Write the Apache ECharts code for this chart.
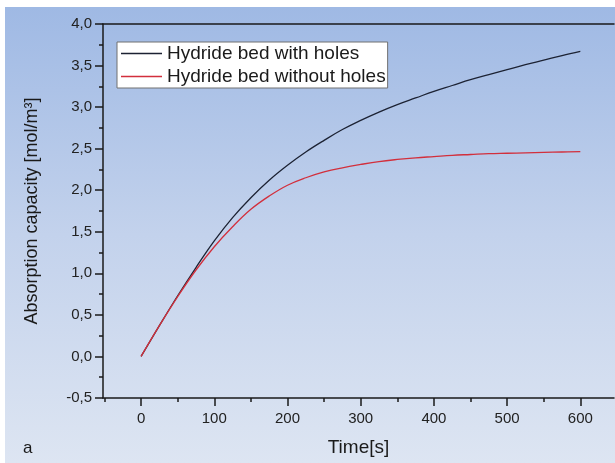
<!DOCTYPE html>
<html>
<head>
<meta charset="utf-8">
<script src="https://cdn.jsdelivr.net/npm/echarts@6/dist/echarts.min.js"></script>
<style>
html,body{margin:0;padding:0;background:#fff;}
#bg{position:absolute;left:5px;top:7px;width:610px;height:456px;background:linear-gradient(to bottom,#9fb9e4 0%,#c3d2ec 50%,#dde5f2 100%);}
#chart{position:absolute;left:0;top:0;width:615px;height:463px;}
</style>
</head>
<body>
<div id="bg"></div>
<div id="chart"></div>
<script>
const times = [0,25,50,75,100,125,150,175,200,225,250,275,300,325,350,375,400,425,450,475,500,525,550,575,600];
const withHoles = [0,0.37,0.73,1.07,1.39,1.67,1.91,2.12,2.30,2.46,2.60,2.73,2.84,2.94,3.03,3.11,3.19,3.26,3.33,3.39,3.45,3.51,3.565,3.62,3.67];
const withoutHoles = [0,0.37,0.72,1.04,1.32,1.56,1.77,1.93,2.06,2.15,2.22,2.27,2.31,2.345,2.37,2.39,2.405,2.42,2.43,2.44,2.445,2.45,2.455,2.46,2.465];
const xMajorTicks = [0,100,200,300,400,500,600];
const xMinorTicks = [-50,50,150,250,350,450,550];
const seriesNames = ['Hydride bed with holes','Hydride bed without holes'];

const FONT = 'Liberation Sans, Arial, sans-serif';
const AX = '#1a1a1a';
const chart = echarts.init(document.getElementById('chart'), null, {renderer:'canvas'});
const XMIN = -52, XMAX = 646;
chart.setOption({
  backgroundColor: 'transparent',
  animation: false,
  textStyle: {fontFamily: FONT},
  grid: {left:103, top:24, right:1, bottom:65, containLabel:false},
  legend: {
    orient:'vertical', left:117, top:42,
    backgroundColor:'#ffffff', borderColor:'#707070', borderWidth:1,
    padding:[2,2,2,4], itemWidth:41, itemHeight:1.3, itemGap:4, icon:'rect',
    textStyle:{fontSize:19, lineHeight:19, color:'#1a1a1a', fontFamily:FONT},
    data: seriesNames
  },
  xAxis: [
    {type:'value', min:XMIN, max:XMAX, position:'bottom',
     name:'Time[s]', nameLocation:'middle', nameGap:40,
     nameTextStyle:{fontSize:19, color:'#1a1a1a', fontFamily:FONT},
     axisLine:{show:true, onZero:false, lineStyle:{color:AX, width:1.5}},
     axisTick:{show:true, length:8, customValues:xMajorTicks, lineStyle:{color:AX, width:1.5}},
     axisLabel:{show:true, customValues:xMajorTicks, margin:13, fontSize:15, color:'#222', fontFamily:FONT},
     splitLine:{show:false}},
    {type:'value', min:XMIN, max:XMAX, position:'bottom',
     axisLine:{show:false, onZero:false},
     axisTick:{show:true, length:4, customValues:xMinorTicks, lineStyle:{color:AX, width:1.5}},
     axisLabel:{show:false}, splitLine:{show:false}},
    {type:'value', min:XMIN, max:XMAX, position:'top',
     axisLine:{show:true, onZero:false, lineStyle:{color:AX, width:1.5}},
     axisTick:{show:false}, axisLabel:{show:false}, splitLine:{show:false}}
  ],
  yAxis: [{
    type:'value', min:-0.5, max:4, interval:0.5,
    name:'Absorption capacity [mol/m³]', nameLocation:'middle', nameGap:62,
    nameTextStyle:{fontSize:18, color:'#1a1a1a', fontFamily:FONT},
    axisLine:{show:true, onZero:false, lineStyle:{color:AX, width:1.5}},
    axisTick:{show:true, length:8, lineStyle:{color:AX, width:1.5}},
    minorTick:{show:true, splitNumber:2, length:4, lineStyle:{color:AX, width:1.5}},
    axisLabel:{margin:11, fontSize:15, color:'#222', fontFamily:FONT,
      formatter: v => v.toFixed(1).replace('.', ',')},
    splitLine:{show:false}, minorSplitLine:{show:false}
  }],
  graphic: [{type:'text', left:23, top:440, style:{text:'a', fontSize:17, fill:'#1a1a1a', fontFamily:FONT}}],
  series: [
    {name:seriesNames[0], type:'line', xAxisIndex:0, symbol:'none', smooth:0.4,
     lineStyle:{color:'#1c2233', width:1.3}, itemStyle:{color:'#1c2233'},
     data: times.map((t,i)=>[t, withHoles[i]])},
    {name:seriesNames[1], type:'line', xAxisIndex:0, symbol:'none', smooth:0.4,
     lineStyle:{color:'#d22f3c', width:1.3}, itemStyle:{color:'#d22f3c'},
     data: times.map((t,i)=>[t, withoutHoles[i]])}
  ]
});
</script>
</body>
</html>
